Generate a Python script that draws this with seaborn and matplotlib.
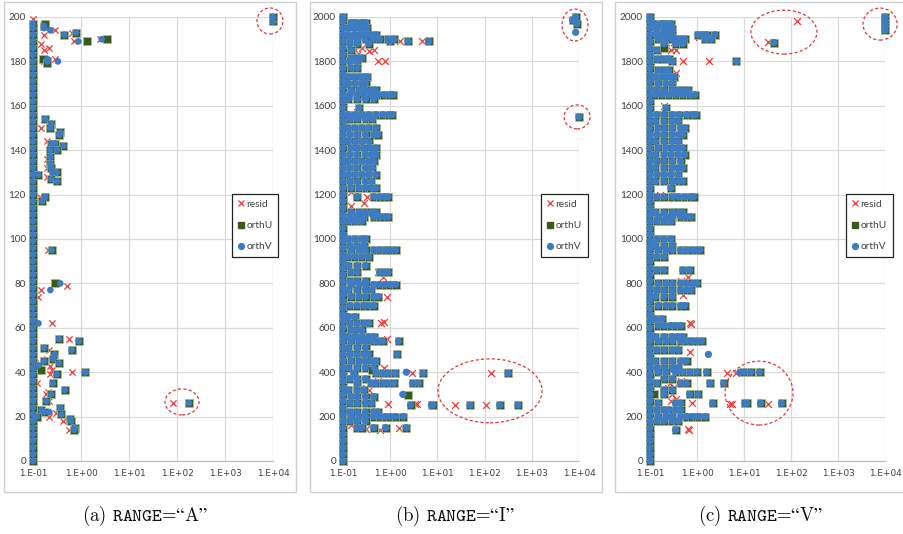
import numpy as np
import pandas as pd
import matplotlib
matplotlib.use("Agg")
import matplotlib.pyplot as plt
import seaborn as sns
from matplotlib.patches import Ellipse, Rectangle
from matplotlib.lines import Line2D
from matplotlib.ticker import FixedLocator, NullLocator

sns.set_theme(style="white")
plt.rcParams['font.family'] = ['Lato', 'DejaVu Sans']
plt.rcParams['mathtext.fontset'] = 'cm'

# ---------------------------------------------------------------- data
SERIES = ["resid", "orthU", "orthV"]
X_TICKS = [0.1, 1, 10, 100, 1000, 10000]
X_TICK_LABELS = ["1.E-01", "1.E+00", "1.E+01", "1.E+02", "1.E+03", "1.E+04"]
A_Y_TICKS = [0, 20, 40, 60, 80, 100, 120, 140, 160, 180, 200]
BC_Y_TICKS = [0, 200, 400, 600, 800, 1000, 1200, 1400, 1600, 1800, 2000]
CAPTIONS = [r'(a) $\mathtt{RANGE}$=$\mathrm{“A”}$',
            r'(b) $\mathtt{RANGE}$=$\mathrm{“I”}$',
            r'(c) $\mathtt{RANGE}$=$\mathrm{“V”}$']

# cases whose error sits at the axis floor (x = 1.E-01)
A_COL_Y = [0, 3, 6, 9, 12, 15, 18, 21, 24, 27, 30, 33, 36, 39, 42, 45, 48, 51,
           54, 57, 60, 63, 66, 69, 72, 75, 78, 81, 84, 87, 90, 93, 96, 99, 102,
           105, 108, 111, 114, 117, 120, 123, 126, 129, 132, 135, 138, 141, 144,
           147, 150, 153, 156, 159, 162, 165, 168, 171, 174, 177, 180, 183, 186,
           189, 192, 195, 197]
BC_COL_Y = [0, 30, 60, 90, 120, 150, 180, 210, 240, 270, 300, 330, 360, 390,
            420, 450, 480, 510, 540, 570, 600, 630, 660, 690, 720, 750, 780,
            810, 840, 870, 900, 930, 960, 990, 1020, 1050, 1080, 1110, 1140,
            1170, 1200, 1230, 1260, 1290, 1320, 1350, 1380, 1410, 1440, 1470,
            1500, 1530, 1560, 1590, 1620, 1650, 1680, 1710, 1740, 1770, 1800,
            1830, 1860, 1890, 1920, 1950, 1980, 2000]

# panel (a): points where orthU and orthV coincide
A_ORTH = [(0.17, 196), (0.45, 192), (0.78, 193), (0.20, 180), (0.18, 154),
          (0.24, 152), (0.23, 150), (0.37, 148), (0.35, 147), (0.24, 143),
          (0.29, 143), (0.43, 142), (0.32, 140), (0.23, 140), (0.23, 137),
          (0.23, 134), (0.24, 132), (0.31, 130), (0.26, 130), (0.24, 127),
          (0.32, 126), (0.13, 129), (0.18, 119), (0.155, 117), (0.245, 95),
          (0.35, 55), (0.9, 54), (0.64, 50), (0.17, 51), (0.28, 48),
          (0.26, 46), (0.17, 45), (0.35, 44), (1.2, 40), (0.31, 39),
          (0.13, 43), (0.26, 35), (0.46, 32), (0.24, 30), (0.19, 27),
          (0.37, 24), (0.15, 23), (0.17, 22), (0.39, 21), (0.59, 19),
          (0.62, 18), (0.75, 15), (0.72, 14), (0.12, 20), (178, 26),
          (10000, 198), (10000, 199.5), (10000, 200)]
A_U_ONLY = [(0.18, 197), (1.31, 189), (3.4, 190), (0.16, 181), (0.2, 179.5),
            (0.29, 80), (0.15, 41)]
A_V_ONLY = [(0.17, 195), (0.23, 194), (0.88, 189), (2.7, 190), (0.33, 180),
            (0.2, 181), (0.37, 80), (0.23, 77), (0.13, 62), (1.25, 40),
            (0.22, 22)]
A_RESID = [(0.1, 199), (0.1, 197), (0.17, 192), (0.29, 194), (0.64, 193),
           (0.72, 189), (2.5, 190), (0.15, 188), (0.17, 185), (0.22, 186),
           (0.17, 180), (0.29, 181), (0.15, 150), (0.2, 144), (0.2, 136),
           (0.2, 132), (0.2, 128), (0.14, 119), (0.21, 95), (0.27, 80),
           (0.5, 79), (0.145, 77), (0.13, 74), (0.25, 62), (0.57, 55),
           (0.22, 50), (0.2, 46), (0.23, 42.6), (0.25, 41), (0.64, 40),
           (0.23, 39), (0.19, 30), (0.21, 31), (0.22, 27), (0.12, 22),
           (0.22, 20), (0.3, 21.5), (0.43, 18), (0.55, 14), (84, 26),
           (0.12, 35), (0.11, 44)]

# panel (b): rows of coinciding orthU/orthV points, (case index, [errors])
B_ORTH_ROWS = [
    (1975, [0.15, 0.18, 0.25, 0.3]), (1950, [0.13, 0.17, 0.22, 0.28, 0.32]),
    (1920, [0.13, 0.18, 0.24, 0.3, 0.38, 0.5]),
    (1900, [0.14, 0.2, 0.3, 0.45, 0.6, 0.9, 1.2]), (1890, [1.0, 2.4, 6.5]),
    (1880, [0.14, 0.2, 0.35]), (1850, [0.15]),
    (1815, [0.15, 0.18, 0.22, 0.25]), (1800, [0.14, 0.2]),
    (1770, [0.15, 0.2]), (1730, [0.13, 0.17, 0.22, 0.28, 0.33]),
    (1700, [0.13, 0.18, 0.25, 0.3]), (1670, [0.15, 0.22, 0.3, 0.4, 0.5]),
    (1650, [0.14, 0.2, 0.28, 0.4, 0.55, 0.75, 1.0, 1.15]),
    (1630, [0.13, 0.2, 0.3, 0.45]), (1590, [0.22]),
    (1560, [0.13, 0.18, 0.25, 0.35, 0.5, 0.7, 0.95, 1.1]),
    (1540, [0.14, 0.2, 0.3, 0.42]), (1500, [0.13, 0.18, 0.25, 0.35, 0.5]),
    (1470, [0.14, 0.2, 0.3, 0.45, 0.55]), (1440, [0.13, 0.18, 0.25, 0.35]),
    (1410, [0.15, 0.2, 0.28, 0.38, 0.5]), (1380, [0.14, 0.2, 0.3, 0.42, 0.5]),
    (1350, [0.13, 0.18, 0.25, 0.35, 0.45]), (1320, [0.14, 0.2, 0.3, 0.42]),
    (1290, [0.13, 0.18, 0.25, 0.35, 0.5]), (1260, [0.14, 0.2, 0.3, 0.4]),
    (1230, [0.15, 0.22, 0.3, 0.4, 0.5]), (1190, [0.2, 0.45, 0.6, 0.75, 0.9]),
    (1120, [0.15, 0.22, 0.3, 0.4, 0.5]),
    (1100, [0.14, 0.2, 0.28, 0.45, 0.6, 0.75, 0.9]),
    (1080, [0.13, 0.18, 0.25]), (1000, [0.13, 0.18, 0.25, 0.3]),
    (970, [0.14, 0.2, 0.28]),
    (950, [0.15, 0.22, 0.3, 0.45, 0.6, 0.8, 1.0, 1.3]),
    (920, [0.13, 0.18, 0.25, 0.35]), (880, [0.13, 0.2, 0.3]),
    (850, [0.15, 0.2, 0.6, 0.75, 0.9]), (810, [0.14, 0.2, 0.3]),
    (795, [0.15, 0.22, 0.3, 0.45, 0.6, 0.8, 1.0, 1.3]),
    (770, [0.13, 0.2, 0.3, 0.4]), (740, [0.15, 0.22, 0.3, 0.45, 0.55]),
    (700, [0.14, 0.2, 0.28, 0.35, 0.45]), (650, [0.13, 0.18]),
    (620, [0.14, 0.2, 0.28, 0.35]), (590, [0.15, 0.2, 0.25]),
    (560, [0.13, 0.18, 0.25, 0.35, 0.45]),
    (540, [0.15, 0.22, 0.3, 0.4, 0.55, 0.7, 1.5]), (510, [0.13, 0.2, 0.3]),
    (480, [0.14, 0.2, 0.28, 0.35, 1.4]), (450, [0.15, 0.22, 0.3, 0.4, 0.5]),
    (420, [0.13, 0.2, 0.3, 0.45]),
    (395, [0.17, 0.5, 0.7, 0.9, 1.28, 5.0, 315]), (370, [0.14, 0.2, 0.3]),
    (350, [0.2, 0.4, 0.5, 0.7, 0.9, 1.2, 3.0, 4.0]), (320, [0.13, 0.2, 0.28]),
    (290, [0.15, 0.2, 0.3, 0.45]), (260, [0.14, 0.2, 0.3, 0.4]),
    (252, [2.7, 7.5, 8.0, 49, 210, 510]),
    (220, [0.14, 0.2, 0.3, 0.45, 0.55]),
    (200, [0.15, 0.22, 0.3, 0.45, 0.6, 0.8, 1.0, 1.3, 1.9]),
    (180, [0.14, 0.2, 0.3]), (150, [0.2, 0.25, 0.45, 0.8, 2.2]),
    (1986, [7400]), (2000, [8500]), (1970, [9000]), (1550, [10000]),
]
B_U_ONLY = [(0.41, 410), (2.4, 297), (0.18, 1975)]
B_V_ONLY = [(8500, 1931), (1.85, 300), (2.2, 400)]
B_RESID = [(0.32, 1956), (0.2, 1930), (1.6, 1890), (4.7, 1892), (0.18, 1850),
           (0.25, 1860), (0.35, 1845), (0.45, 1850), (0.55, 1800),
           (0.78, 1800), (0.2, 1830), (0.3, 1680), (0.2, 1570), (0.22, 1560),
           (0.15, 1210), (0.32, 1190), (0.15, 1150), (0.15, 1100),
           (0.28, 1160), (0.2, 940), (0.55, 850), (0.7, 830), (0.85, 740),
           (0.45, 720), (0.65, 620), (0.75, 625), (0.85, 550), (0.75, 420),
           (0.2, 560), (0.3, 330), (0.35, 320), (0.55, 360), (0.3, 290),
           (0.35, 280), (2.9, 395), (0.9, 255), (3.4, 255), (3.7, 255),
           (24, 252), (105, 252), (135, 395), (0.15, 160), (0.22, 150),
           (0.3, 145), (0.45, 150), (0.6, 140), (1.5, 150), (0.25, 270),
           (0.4, 270), (0.16, 1700), (0.14, 1350), (0.17, 1290),
           (0.2, 880), (0.16, 470), (0.2, 430), (0.24, 310)]

# panel (c)
C_ORTH_ROWS = [
    (1970, [0.13, 0.18, 0.22, 0.28]), (1945, [0.14, 0.2, 0.25, 0.3]),
    (1920, [0.13, 0.18, 0.25, 0.3, 1.05, 1.3, 1.6, 2.4]),
    (1900, [0.15, 0.22, 0.3, 0.38, 0.45, 0.55, 1.5, 2.0]),
    (1880, [0.2, 0.35, 0.5]), (1850, [0.14]),
    (1810, [0.14, 0.18, 0.22, 0.25]), (1800, [0.3, 6.9]),
    (1760, [0.15, 0.2, 0.25]), (1730, [0.13, 0.18, 0.22, 0.28, 0.33]),
    (1700, [0.15, 0.22, 0.3]), (1670, [0.14, 0.2, 0.3, 0.4, 0.5, 0.65]),
    (1650, [0.13, 0.18, 0.25, 0.35, 0.5, 0.7, 0.9]), (1590, [0.22]),
    (1560, [0.14, 0.2, 0.3, 0.42, 0.6, 0.8, 0.95]),
    (1530, [0.13, 0.2, 0.3, 0.4]), (1500, [0.15, 0.2, 0.3, 0.45, 0.55]),
    (1470, [0.14, 0.2, 0.3, 0.42, 0.5]), (1440, [0.13, 0.2, 0.3, 0.4]),
    (1410, [0.15, 0.22, 0.3, 0.4, 0.5]),
    (1380, [0.13, 0.2, 0.28, 0.4, 0.55]), (1350, [0.14, 0.2, 0.3, 0.45]),
    (1320, [0.13, 0.2, 0.3, 0.42, 0.5]), (1290, [0.14, 0.2, 0.28, 0.4]),
    (1260, [0.13, 0.2, 0.3, 0.4, 0.5]), (1230, [0.28]),
    (1190, [0.14, 0.2, 0.3, 0.4, 0.55, 0.75, 0.85]),
    (1120, [0.13, 0.2, 0.3, 0.4, 0.5]),
    (1100, [0.15, 0.22, 0.3, 0.45, 0.6, 0.75]), (1080, [0.14, 0.2, 0.28]),
    (1000, [0.14, 0.2, 0.28]), (970, [0.13, 0.2, 0.3]),
    (950, [0.15, 0.22, 0.3, 0.45, 0.6, 0.8, 1.0, 1.15]), (920, [0.14, 0.2]),
    (860, [0.14, 0.2, 0.5, 0.7]),
    (800, [0.15, 0.22, 0.3, 0.45, 0.6, 0.8, 1.0]),
    (770, [0.14, 0.2, 0.3, 0.45, 0.6, 0.75]), (740, [0.13, 0.2, 0.3]),
    (700, [0.15, 0.22, 0.3, 0.45, 0.55]), (640, [0.13, 0.18]),
    (610, [0.15, 0.2, 0.28, 0.35, 0.45]), (560, [0.13, 0.2, 0.3, 0.4, 0.5]),
    (540, [0.15, 0.22, 0.3, 0.45, 0.6, 0.8, 1.0, 1.26]),
    (500, [0.14, 0.2, 0.3, 0.4]), (450, [0.13, 0.2, 0.3, 0.45, 0.6]),
    (420, [0.14, 0.2, 0.3, 0.4]),
    (400, [0.15, 0.22, 0.35, 0.5, 0.7, 1.0, 1.6, 10, 14, 21.5]),
    (370, [0.2, 0.3]), (350, [0.14, 0.45, 0.6, 1.9, 3.7]), (320, [0.2, 0.3]),
    (300, [0.2, 0.7, 1.05]),
    (260, [0.15, 0.35, 0.45, 2.16, 10.5, 11.5, 22.5, 63]),
    (230, [0.14, 0.2, 0.25, 0.35, 0.45]),
    (200, [0.15, 0.22, 0.3, 0.45, 0.6, 0.8, 1.0, 1.1, 1.5]),
    (180, [0.14, 0.2, 0.3, 0.4]), (140, [0.35]),
    (2000, [10000]), (1985, [10000]), (1970, [10000]), (1955, [10000]),
    (1940, [10000]), (1885, [43.5]),
]
C_U_ONLY = [(0.12, 300), (0.2, 1860)]
C_V_ONLY = [(8.2, 400), (1.75, 480)]
C_RESID = [(0.3, 1970), (0.25, 1960), (0.2, 1880), (0.22, 1860), (0.28, 1850),
           (0.32, 1860), (0.35, 1850), (1.1, 1910), (32, 1889), (131, 1980),
           (0.5, 1800), (1.8, 1800), (0.35, 1750), (0.2, 1600), (0.35, 1190),
           (0.32, 1185), (0.55, 860), (0.65, 830), (0.45, 810), (0.5, 750),
           (0.7, 620), (0.75, 615), (0.4, 520), (0.7, 490), (0.2, 400),
           (4.3, 395), (6.9, 395), (0.4, 350), (0.45, 360), (0.3, 300),
           (0.35, 280), (0.28, 270), (0.8, 260), (5.0, 257), (5.5, 257),
           (32, 257), (0.3, 220), (0.6, 200), (0.65, 145), (0.68, 140),
           (0.2, 180), (0.15, 1650), (0.14, 1430), (0.16, 1200),
           (0.24, 330), (0.26, 350), (0.3, 380)]

# ---------------------------------------------------------------- helpers
def rows_to_pairs(rows):
    return [(x, y) for y, xs in rows for x in xs]


def build_frame(col_y, orth, u_only, v_only, resid):
    recs = []
    for y in col_y:
        for s in SERIES:
            recs.append((s, 0.1, y))
    for x, y in resid:
        recs.append(("resid", x, y))
    for x, y in orth:
        recs.append(("orthU", x, y))
        recs.append(("orthV", x, y))
    for x, y in u_only:
        recs.append(("orthU", x, y))
    for x, y in v_only:
        recs.append(("orthV", x, y))
    return pd.DataFrame(recs, columns=["series", "x", "y"])


frames = [
    build_frame(A_COL_Y, A_ORTH, A_U_ONLY, A_V_ONLY, A_RESID),
    build_frame(BC_COL_Y, rows_to_pairs(B_ORTH_ROWS), B_U_ONLY, B_V_ONLY, B_RESID),
    build_frame(BC_COL_Y, rows_to_pairs(C_ORTH_ROWS), C_U_ONLY, C_V_ONLY, C_RESID),
]

RED = "#EE3B36"
GREEN = "#3A5A1C"
BLUE = "#3D7BC2"


def style(name, scale):
    if name == "resid":
        return dict(marker="x", s=20 * scale, color=RED, linewidth=0.9)
    if name == "orthU":
        return dict(marker="s", s=30 * scale, color=GREEN, edgecolor="#A9BC98",
                    linewidth=0.5)
    return dict(marker="o", s=23 * scale, color=BLUE, edgecolor="none",
                linewidth=0)


# ---------------------------------------------------------------- figure
W, H = 904, 534
fig = plt.figure(figsize=(W / 100, H / 100), dpi=100)

for (x0, x1) in [(4, 296), (310, 602), (615, 907)]:
    fig.patches.append(Rectangle((x0 / W, 1 - 492 / H), (x1 - x0) / W, 490 / H,
                                 transform=fig.transFigure, fill=False,
                                 edgecolor="#D0D0D0", linewidth=1.0))

axes_px = [(33, 240), (343, 236), (650, 235)]
y_ticks = [A_Y_TICKS, BC_Y_TICKS, BC_Y_TICKS]
y_max = [200, 2000, 2000]
marker_scale = [1.0, 1.2, 1.2]
legend_fx = [0.829, 0.839, 0.834]
ellipses = [
    [(0.9875, 0.991, 0.108, 0.0586), (0.621, 0.133, 0.142, 0.0586)],
    [(0.983, 0.982, 0.110, 0.072), (0.992, 0.775, 0.110, 0.054),
     (0.623, 0.158, 0.441, 0.144)],
    [(0.570, 0.966, 0.281, 0.099), (0.979, 0.984, 0.145, 0.072),
     (0.464, 0.153, 0.289, 0.144)],
]
caption_x = [145, 455, 760]

for i, df in enumerate(frames):
    left, width = axes_px[i]
    ax = fig.add_axes([left / W, (534 - 461) / H, width / W, 444 / H])
    ax.set_xscale("log")
    for s in SERIES:
        sub = df[df.series == s]
        sns.scatterplot(data=sub, x="x", y="y", ax=ax, legend=False,
                        clip_on=False, zorder=3, **style(s, marker_scale[i]))
    ax.set_xlim(0.1, 10000)
    ax.set_ylim(0, y_max[i])
    ax.xaxis.set_major_locator(FixedLocator(X_TICKS))
    ax.xaxis.set_minor_locator(NullLocator())
    ax.set_xticklabels(X_TICK_LABELS)
    ax.set_yticks(y_ticks[i])
    ax.set_yticklabels([str(v) for v in y_ticks[i]])
    ax.set_xlabel("")
    ax.set_ylabel("")
    ax.grid(True, which="major", color="#D9D9D9", linewidth=0.9, zorder=0)
    ax.set_axisbelow(True)
    for sp in ["top", "right", "left"]:
        ax.spines[sp].set_visible(False)
    ax.spines["bottom"].set_color("#BFBFBF")
    ax.spines["bottom"].set_linewidth(0.9)
    ax.tick_params(axis="both", length=0, colors="#404040")
    ax.tick_params(axis="y", pad=5, labelsize=7.2)
    ax.tick_params(axis="x", pad=6, labelsize=6.4)
    for lab in ax.get_xticklabels():
        lab.set_fontfamily(["Liberation Sans Narrow", "DejaVu Sans"])
    ax.set_facecolor("white")

    for (cx, cy, ew, eh) in ellipses[i]:
        ax.add_patch(Ellipse((cx, cy), ew, eh, transform=ax.transAxes,
                             fill=False, edgecolor="#E0393B", linewidth=0.9,
                             linestyle=(0, (2.5, 1.8)), clip_on=False, zorder=5))

    handles = [
        Line2D([], [], marker="x", color=RED, linestyle="None", markersize=4.5, mew=0.9),
        Line2D([], [], marker="s", color=GREEN, linestyle="None", markersize=4.5),
        Line2D([], [], marker="o", color=BLUE, linestyle="None", markersize=4.2),
    ]
    leg = ax.legend(handles, SERIES, loc="upper left",
                    bbox_to_anchor=(legend_fx[i], 0.601), frameon=True,
                    fancybox=False, edgecolor="#222222", framealpha=1,
                    fontsize=7.3, labelspacing=1.2, handlelength=0.6,
                    handletextpad=0.3, borderpad=0.55, borderaxespad=0)
    leg.get_frame().set_linewidth(0.9)
    for t in leg.get_texts():
        t.set_color("#404040")

    fig.text(caption_x[i] / W, 1 - 516 / H, CAPTIONS[i], ha="center",
             va="center", fontsize=13.5, color="#111111",
             family=["cmr10", "STIXGeneral", "DejaVu Serif"])

fig.savefig("out.png", dpi=100, facecolor="white")
